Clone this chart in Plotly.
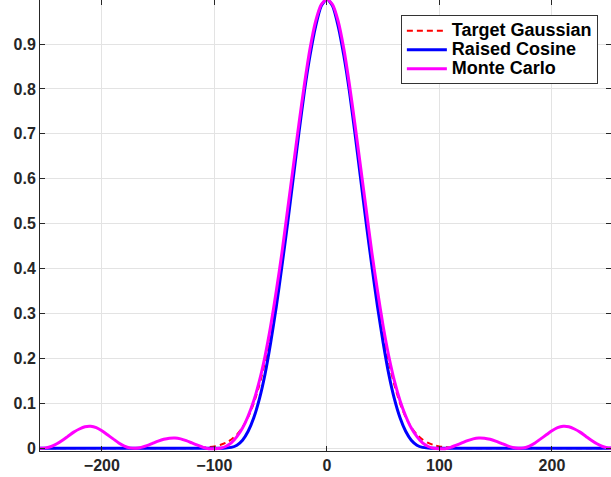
import plotly.graph_objects as go

# x grid (units along horizontal axis)
X = list(range(-255, 260, 5))

# Target Gaussian
gauss = [0, 0, 0, 0, 0, 0, 0, 0, 0, 0, 0, 0, 0, 0, 0, 0, 0, 0, 0, 0, 0, 0, 0, 0, 0,
         0.0001, 0.0002, 0.0004, 0.0007, 0.0014, 0.0025, 0.0043, 0.0073, 0.0121, 0.0195,
         0.0306, 0.0467, 0.0693, 0.1002, 0.1408, 0.1925, 0.2562, 0.3319, 0.4183, 0.5131,
         0.6125, 0.7115, 0.8042, 0.8847, 0.947, 0.9865,
         1.0,
         0.9865, 0.947, 0.8847, 0.8042, 0.7115, 0.6125, 0.5131, 0.4183, 0.3319, 0.2562,
         0.1925, 0.1408, 0.1002, 0.0693, 0.0467, 0.0306, 0.0195, 0.0121, 0.0073, 0.0043,
         0.0025, 0.0014, 0.0007, 0.0004, 0.0002, 0.0001,
         0, 0, 0, 0, 0, 0, 0, 0, 0, 0, 0, 0, 0, 0, 0, 0, 0, 0, 0, 0, 0, 0, 0, 0, 0]

# Raised Cosine
raised = [0, 0, 0, 0, 0, 0, 0, 0, 0, 0, 0, 0, 0, 0, 0, 0, 0, 0, 0, 0, 0, 0, 0, 0, 0,
          0, 0, 0, 0, 0, 0, 0, 0,
          0.0005, 0.002, 0.007, 0.018, 0.038, 0.068, 0.11, 0.165, 0.235, 0.315, 0.405,
          0.50, 0.60, 0.70, 0.795, 0.875, 0.94, 0.985,
          1.0,
          0.985, 0.94, 0.875, 0.795, 0.70, 0.60, 0.50, 0.405, 0.315, 0.235, 0.165, 0.11,
          0.068, 0.038, 0.018, 0.007, 0.002, 0.0005,
          0, 0, 0, 0, 0, 0, 0, 0, 0, 0, 0, 0, 0, 0, 0, 0, 0, 0, 0, 0, 0, 0, 0, 0, 0,
          0, 0, 0, 0, 0, 0, 0, 0]

# Monte Carlo
monte = [0.0, 0.001, 0.004, 0.010, 0.018, 0.027, 0.036, 0.043, 0.048, 0.049, 0.046,
         0.039, 0.030, 0.021, 0.012, 0.005, 0.001, 0.0, 0.002, 0.006, 0.011, 0.016,
         0.02, 0.0225, 0.023, 0.021, 0.017, 0.012, 0.007, 0.002, -0.001, -0.001,
         0.0, 0.004, 0.012, 0.026, 0.045, 0.072, 0.106, 0.15, 0.205, 0.272, 0.35,
         0.435, 0.53, 0.625, 0.72, 0.81, 0.89, 0.951, 0.988,
         1.0,
         0.988, 0.951, 0.89, 0.81, 0.72, 0.625, 0.53, 0.435, 0.35, 0.272, 0.205, 0.15,
         0.106, 0.072, 0.045, 0.026, 0.012, 0.004, 0.0,
         -0.001, -0.001, 0.002, 0.007, 0.012, 0.017, 0.021, 0.023, 0.0225, 0.02, 0.016,
         0.011, 0.006, 0.002, 0.0, 0.001, 0.005, 0.012, 0.021, 0.030, 0.039, 0.046,
         0.049, 0.048, 0.043, 0.036, 0.027, 0.018, 0.010, 0.004, 0.001, 0.0]

assert len(X) == len(gauss) == len(raised) == len(monte), (len(X), len(gauss), len(raised), len(monte))

series_names = ['Target Gaussian', 'Raised Cosine', 'Monte Carlo']

x_ticks = [-200, -100, 0, 100, 200]
y_ticks = [0, 0.1, 0.2, 0.3, 0.4, 0.5, 0.6, 0.7, 0.8, 0.9]
y_ticktext = ['0', '0.1', '0.2', '0.3', '0.4', '0.5', '0.6', '0.7', '0.8', '0.9']

XR = [-255, 252.5]
YR = [-0.006, 0.998]

tickfont = dict(family='Liberation Sans', size=16, color='#262626', weight=700)


def big(s):
    return '<span style="font-size:18px">' + s + '</span>'


fig = go.Figure()
fig.add_trace(go.Scatter(x=X, y=gauss, mode='lines', name=big(series_names[0]),
                         line=dict(color='#ff0000', width=2, dash='6px,4px', shape='spline', smoothing=0.6)))
fig.add_trace(go.Scatter(x=X, y=raised, mode='lines', name=big(series_names[1]),
                         line=dict(color='#0000ff', width=3, shape='spline', smoothing=0.6)))
fig.add_trace(go.Scatter(x=X, y=monte, mode='lines', name=big(series_names[2]),
                         line=dict(color='#ff00ff', width=3, shape='spline', smoothing=0.6)))
# empty helper trace for mirrored tick axes
fig.add_trace(go.Scatter(x=[], y=[], xaxis='x2', yaxis='y2', showlegend=False, hoverinfo='skip'))

fig.update_layout(
    width=611, height=477,
    margin=dict(l=40, r=0, t=0, b=26),
    paper_bgcolor='white', plot_bgcolor='white',
    showlegend=True,
    legend=dict(x=0.977, y=0.966, xanchor='right', yanchor='top',
                bgcolor='white', bordercolor='#333333', borderwidth=1,
                font=dict(family='Liberation Sans', size=12, color='#000000', weight=700),
                tracegroupgap=0, itemwidth=40),
    xaxis=dict(range=XR, tickvals=x_ticks, showgrid=True, gridcolor='#e3e3e3', gridwidth=1,
               zeroline=False, showline=True, linecolor='#262626', linewidth=1,
               ticks='inside', ticklen=5, tickcolor='#262626', tickfont=tickfont),
    yaxis=dict(range=YR, tickvals=y_ticks, ticktext=y_ticktext, showgrid=True,
               gridcolor='#e3e3e3', gridwidth=1, zeroline=False, showline=True,
               linecolor='#262626', linewidth=1, ticks='inside', ticklen=5,
               tickcolor='#262626', tickfont=tickfont),
    xaxis2=dict(range=XR, overlaying='x', side='top', anchor='y2', tickvals=x_ticks,
                showticklabels=False, showgrid=False, zeroline=False, showline=False,
                ticks='inside', ticklen=5, tickcolor='#262626'),
    yaxis2=dict(range=YR, overlaying='y', side='right', anchor='x2', tickvals=y_ticks,
                showticklabels=False, showgrid=False, zeroline=False, showline=False,
                ticks='inside', ticklen=5, tickcolor='#262626'),
)

fig.write_html('out.html', config={'displayModeBar': False},
               post_script="document.body.style.margin='0';document.body.style.padding='0';")
